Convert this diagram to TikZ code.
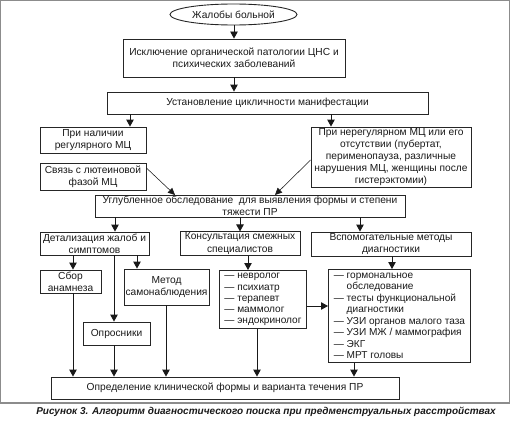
\documentclass[tikz,border=0pt]{standalone}
\usepackage{fontspec}
\setmainfont{Liberation Sans}
\usetikzlibrary{arrows.meta,shapes.geometric}
\begin{document}
\begin{tikzpicture}[x=1pt,y=-1pt,
  every node/.style={font=\fontsize{10.2}{12.2}\selectfont, text=black!90},
  box/.style={draw=black!85, line width=0.9pt, inner sep=1pt, align=center},
  lbox/.style={draw=black!85, line width=0.9pt, inner sep=3pt, align=left, anchor=north west},
  arr/.style={-{Triangle[length=7pt,width=7.5pt]}, line width=0.9pt, draw=black!90},
  tarr/.style={-{Triangle[length=7pt,width=6.5pt]}, line width=0.55pt, draw=black!90}]
% frame and bounding box
\useasboundingbox (0,0) rectangle (510,420);
\draw[draw=black!45, line width=1.4pt] (0.7,0.7) rectangle (509.3,403);
% helper x coordinates
\coordinate (x73) at (73,0);   \coordinate (x114) at (114,0);
\coordinate (x115) at (115,0); \coordinate (x130) at (130,0);
\coordinate (x137) at (137,0); \coordinate (x166) at (166,0);
\coordinate (x234) at (234,0); \coordinate (x240) at (240,0);
\coordinate (x248) at (248,0); \coordinate (x257) at (257,0);
\coordinate (x331) at (331,0); \coordinate (x354) at (354,0);
\coordinate (x360) at (360,0); \coordinate (x392) at (392,0);
\coordinate (y306) at (0,306);
% nodes
\node[ellipse, draw=black!85, line width=0.9pt, minimum width=127pt, minimum height=21pt, inner sep=0pt] (ell) at (233.5,14.5) {Жалобы больной};
\node[box, minimum width=222pt, minimum height=38pt] (b2) at (234,58) {Исключение органической патологии ЦНС и\\психических заболеваний};
\node[box, minimum width=321pt, minimum height=22pt] (b3) at (267.5,103) {Установление цикличности манифестации};
\node[box, minimum width=106pt, minimum height=26pt] (b4) at (93,140) {При наличии\\регулярного МЦ};
\node[box, minimum width=106pt, minimum height=27pt] (b5) at (93,176.5) {Связь с лютеиновой\\фазой МЦ};
\node[box, minimum width=160pt, minimum height=60pt] (b6) at (391,157) {При нерегулярном МЦ или его\\отсутствии (пубертат,\\перименопауза, различные\\нарушения МЦ, женщины после\\гистерэктомии)};
\node[box, minimum width=310pt, minimum height=22pt] (b7) at (250,206) {Углубленное обследование \ для выявления формы и степени\\тяжести ПР};
\node[box, minimum width=109pt, minimum height=23pt] (b8) at (94.5,243.5) {Детализация жалоб и\\симптомов};
\node[box, minimum width=120pt, minimum height=23pt] (b9) at (240,243.5) {Консультация смежных\\специалистов};
\node[box, minimum width=160pt, minimum height=24pt] (b10) at (391,244) {Вспомогательные методы\\диагностики};
\node[box, minimum width=61pt, minimum height=23pt] (b11) at (70.5,281.5) {Сбор\\анамнеза};
\node[box, minimum width=85pt, minimum height=36pt] (b12) at (166.5,287) {Метод\\самонаблюдения};
\node[box, minimum width=67pt, minimum height=23pt] (b13) at (116.5,333.5) {Опросники};
\node[lbox, minimum width=87pt, minimum height=57pt, font=\fontsize{10.1}{11.2}\selectfont] (b14) at (219,270) {— невролог\\— психиатр\\— терапевт\\— маммолог\\— эндокринолог};
\node[lbox, minimum width=142pt, minimum height=93pt, font=\fontsize{10.1}{11.5}\selectfont] (b15) at (328,269) {— гормональное\\\hphantom{— }обследование\\— тесты функциональной\\\hphantom{— }диагностики\\— УЗИ органов малого таза\\— УЗИ МЖ / маммография\\— ЭКГ\\— МРТ головы};
\node[box, minimum width=348pt, minimum height=22pt] (b16) at (225,388) {Определение клинической формы и варианта течения ПР};
\node[font=\fontsize{10}{11}\selectfont\bfseries\itshape] (cap) at (266,411.5) {Рисунок 3. Алгоритм диагностического поиска при предменструальных расстройствах};
% connectors
\draw[arr] (ell.south -| x234) -- (b2.north -| x234);
\draw[arr] (b2.south -| x234) -- (b3.north -| x234);
\draw[arr] (b3.south -| x130) -- (b4.north -| x130);
\draw[arr] (b3.south -| x331) -- (b6.north -| x331);
\coordinate (t1) at (175,195);
\coordinate (t2) at (275,195);
\draw[tarr] (b5.east |- 0,168) -- (t1);
\draw[tarr] (b6.west |- 0,160) -- (t2);
\draw[arr] (b7.south -| x115) -- (b8.north -| x115);
\draw[arr] (b7.south -| x240) -- (b9.north -| x240);
\draw[arr] (b7.south -| x360) -- (b10.north -| x360);
\draw[arr] (b8.south -| x73) -- (b11.north -| x73);
\draw[arr] (b8.south -| x114) -- (b13.north -| x114);
\draw[arr] (b8.south -| x137) -- (b12.north -| x137);
\draw[arr] (b9.south -| x248) -- (b14.north -| x248);
\draw[arr] (b10.south -| x392) -- (b15.north -| x392);
\draw[arr] (b14.east |- y306) -- (b15.west |- y306);
\draw[arr] (b11.south -| x73) -- (b16.north -| x73);
\draw[arr] (b13.south -| x114) -- (b16.north -| x114);
\draw[arr] (b12.south -| x166) -- (b16.north -| x166);
\draw[arr] (b14.south -| x257) -- (b16.north -| x257);
\draw[arr] (b15.south -| x354) -- (b16.north -| x354);
\end{tikzpicture}
\end{document}
